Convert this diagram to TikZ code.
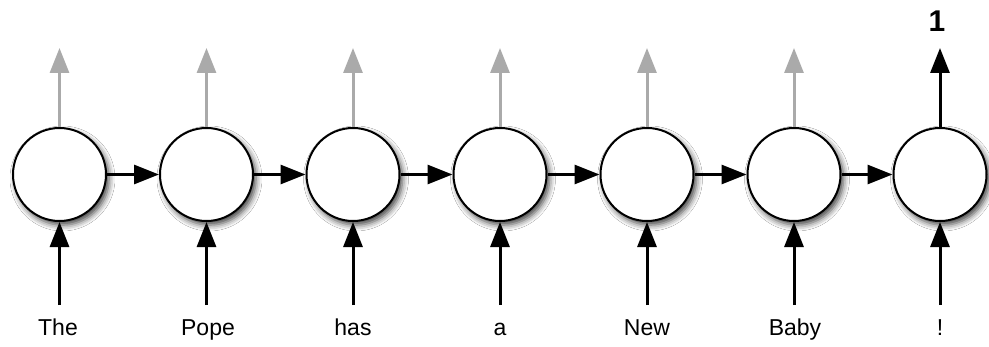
\documentclass[tikz,border=0pt]{standalone}
\usepackage{fontspec}
\setmainfont{Liberation Sans}
\usetikzlibrary{arrows.meta,shadows.blur}
\definecolor{faded}{RGB}{170,170,170}
\tikzset{
  cell/.style={circle, draw=black, fill=white, line width=2pt, minimum size=93pt, inner sep=0pt,
    blur shadow={shadow xshift=3pt, shadow yshift=-4pt, shadow blur radius=6pt, shadow opacity=75}},
  flow/.style={line width=3pt, -{Triangle[length=25pt,width=19pt]}},
  outfaded/.style={flow, draw=faded},
  word/.style={anchor=base, font=\fontsize{23}{27}\selectfont},
  result/.style={anchor=base, font=\fontsize{30}{34}\selectfont\bfseries}
}
\begin{document}
\begin{tikzpicture}[x=1pt,y=1pt]
  \useasboundingbox[fill=white] (0,0) rectangle (989,346);
  % recurrent cells
  \foreach \i/\x in {1/59.5,2/206.5,3/353,4/500,5/647,6/794,7/940} {
    \node[cell] (c\i) at (\x,171.5) {};
    \coordinate (in\i) at (\x,41);
    \coordinate (out\i) at (\x,298);
  }
  % input words
  \node[word] (w1) at (58,11) {The};
  \node[word] (w2) at (208,11) {Pope};
  \node[word] (w3) at (353,11) {has};
  \node[word] (w4) at (500,11) {a};
  \node[word] (w5) at (647,11) {New};
  \node[word] (w6) at (795,11) {Baby};
  \node[word] (w7) at (940,11) {!};
  % final output
  \node[result] (y) at (937,314) {1};
  % inputs into cells
  \foreach \i in {1,...,7} \draw[flow] (in\i) -- (c\i.south);
  % hidden state passed along
  \foreach \i/\j in {1/2,2/3,3/4,4/5,5/6,6/7} \draw[flow] (c\i.east) -- (c\j.west);
  % per-step outputs
  \foreach \i in {1,...,6} \draw[outfaded] (c\i.north) -- (out\i);
  \draw[flow] (c7.north) -- (out7);
\end{tikzpicture}
\end{document}
